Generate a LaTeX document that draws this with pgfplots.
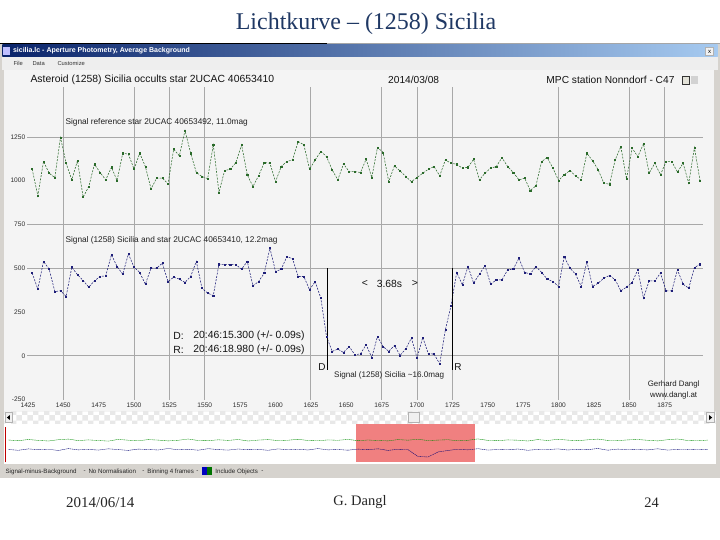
\documentclass[border=0pt]{standalone}
\usepackage{fontspec}
\setmainfont{Liberation Serif}
\newfontfamily\ui{Liberation Sans}
\usepackage{pgfplots}
\usepackage{pgfplotstable}
\pgfplotsset{compat=1.18}
\usetikzlibrary{patterns}

\definecolor{slidetitle}{HTML}{1F3864}
\definecolor{winframe}{HTML}{D6D3CE}
\definecolor{menubg}{HTML}{EEEEEE}
\definecolor{chartbg}{HTML}{F4F4F4}
\definecolor{tbleft}{HTML}{0A246A}
\definecolor{tbright}{HTML}{A6CAF0}
\definecolor{refgreen}{HTML}{2A6A2A}
\definecolor{astblue}{HTML}{1E1E78}
\definecolor{gridgray}{HTML}{A8A8A8}
\definecolor{salmonsel}{HTML}{F08080}

% binned light curve (4 frames per bin): reference star and (1258) Sicilia + target star
\pgfplotstableread{
f ref ast
1428 1066 472
1432 914 381
1436 1110 539
1440 1043 495
1444 1018 367
1448 1247 371
1452 1100 339
1456 1005 506
1460 1115 463
1464 906 430
1468 967 392
1472 1094 428
1476 1047 453
1480 1005 457
1484 1077 577
1488 1001 510
1492 1157 466
1496 1152 582
1500 1066 506
1504 1157 476
1508 1081 409
1512 954 501
1516 1015 501
1520 1015 529
1524 982 424
1528 1180 449
1532 1142 438
1536 1287 419
1540 1157 453
1544 1047 539
1548 1024 386
1552 1012 358
1556 1205 344
1560 933 523
1564 1058 522
1568 1066 522
1572 1104 520
1576 1205 495
1580 1034 539
1584 967 400
1588 1028 424
1592 1104 472
1596 1100 615
1600 995 481
1604 1081 495
1608 1110 567
1612 1119 554
1616 1224 453
1620 1205 453
1624 1066 377
1628 1119 424
1632 1167 329
1636 1138 110
1640 1062 25
1644 1005 38
1648 1096 19
1652 1052 53
1656 1052 6
1660 1047 11
1664 1123 63
1668 1018 -10
1672 1190 110
1676 1162 53
1680 995 25
1684 1085 59
1688 1056 2
1692 1024 40
1696 995 101
1700 1018 -13
1704 1043 105
1708 1066 11
1712 1081 10
1716 1028 -46
1720 1119 148
1724 1100 286
1728 1094 476
1732 1072 405
1736 1077 510
1740 1123 415
1744 1005 466
1748 1043 514
1752 1072 409
1756 1081 434
1760 1132 434
1764 1081 491
1768 1047 495
1772 1005 558
1776 1015 476
1780 944 468
1784 971 510
1788 1110 476
1792 1132 438
1796 1072 424
1800 1001 396
1804 1034 567
1808 1058 501
1812 1028 466
1816 1005 396
1820 1157 539
1824 1115 396
1828 1062 415
1832 986 444
1836 980 459
1840 1119 434
1844 1195 371
1848 1011 392
1852 1186 419
1856 1138 491
1860 1211 329
1864 1043 428
1868 1100 428
1872 1034 472
1876 1110 371
1880 1110 371
1884 1049 491
1888 1100 409
1892 986 386
1896 1190 504
1900 999 523
}\lc

% overview strip of the whole recording (screen units)
\pgfplotstableread{
x g b
0 22.5 13.0
10 21.8 12.2
20 23.0 13.6
30 22.1 12.8
40 21.5 13.3
50 22.8 12.0
60 23.4 13.9
70 21.9 12.6
80 22.6 13.1
90 22.0 12.4
100 21.4 13.7
110 23.1 12.9
120 22.3 12.1
130 21.7 13.4
140 22.9 13.0
150 22.4 12.5
160 21.6 14.0
170 22.2 12.7
180 23.5 13.2
190 22.0 12.3
200 21.8 13.8
210 22.7 12.9
220 22.1 12.4
230 23.0 13.5
240 21.5 12.8
250 22.4 13.1
260 22.9 12.2
270 21.9 13.6
280 22.3 12.7
290 23.2 13.3
300 22.0 12.5
310 21.7 13.9
320 22.6 12.6
330 22.2 13.0
340 23.1 12.3
350 21.8 13.4
360 22.5 12.8
370 22.0 13.7
380 21.6 12.1
390 22.9 13.2
400 22.3 12.9
410 23.3 6.0
420 21.9 5.5
430 22.4 10.5
440 22.8 12.0
450 21.7 13.3
460 22.2 12.6
470 23.6 13.8
480 22.1 12.4
490 21.8 13.0
500 22.6 12.7
510 22.3 13.5
520 21.5 12.2
530 22.9 13.1
540 22.0 12.9
550 23.2 13.6
560 22.4 12.5
570 21.8 13.2
580 22.7 12.8
590 23.4 14.0
600 22.1 12.3
610 21.9 13.4
620 22.6 12.7
630 23.0 13.0
640 22.2 12.6
650 21.6 13.7
660 22.8 12.4
670 23.5 13.1
680 22.0 12.9
690 21.7 13.3
700 22.4 12.8
}\ov

\newcommand\uisize[1]{\ui\fontsize{#1}{#1}\selectfont}

\begin{document}
\begin{tikzpicture}[x=1pt,y=1pt]
% slide
\fill[white] (0,0) rectangle (720,540);
\node[font=\fontsize{24}{28}\selectfont, text=slidetitle] at (366,516) {Lichtkurve -- (1258) Sicilia};
\node[font=\fontsize{15}{17}\selectfont, text=black!85] at (100,37) {2014/06/14};
\node[font=\fontsize{14.5}{17}\selectfont, text=black!85] at (360,37) {G. Dangl};
\node[font=\fontsize{14.5}{17}\selectfont, text=black!85] at (652,37) {24};

% application window
\fill[winframe] (0,61) rectangle (720,497);
\draw[black, line width=0.8pt] (0,497) -- (327,497);
\draw[gray!70, line width=0.8pt] (327,497) -- (720,497);
\shade[left color=tbleft, right color=tbright] (2,483) rectangle (718,495.5);
\fill[white!75!blue] (3,485) rectangle (10,493);
\node[anchor=west, font=\uisize{7}\bfseries, text=white, inner sep=0pt] at (12.5,489.2) {sicilia.lc - Aperture Photometry, Average Background};
\fill[gray!10] (706,484.5) rectangle (714,492.5);
\draw[gray!60, line width=0.4pt] (706,484.5) rectangle (714,492.5);
\node[font=\uisize{6}, inner sep=0pt] at (710,488.5) {x};
\fill[menubg] (2,470) rectangle (718,483);
\node[anchor=west, font=\uisize{5.8}, text=gray!40!black, inner sep=0pt] at (13,476.5) {File};
\node[anchor=west, font=\uisize{5.8}, text=gray!40!black, inner sep=0pt] at (32,476.5) {Data};
\node[anchor=west, font=\uisize{5.8}, text=gray!40!black, inner sep=0pt] at (57,476.5) {Customize};

% chart panel
\fill[chartbg] (4,128) rectangle (714,470);
\node[anchor=west, font=\uisize{10.4}, text=gray!15!black, inner sep=0pt] at (30,460) {Asteroid (1258) Sicilia occults star 2UCAC 40653410};
\node[anchor=west, font=\uisize{10.2}, text=gray!15!black, inner sep=0pt] at (388,460) {2014/03/08};
\node[anchor=east, font=\uisize{10.2}, text=gray!15!black, inner sep=0pt] at (675,460) {MPC station Nonndorf - C47};
\fill[yellow!15!gray!30] (683,456) rectangle (690,464);
\draw[gray!40!black, line width=0.4pt] (683,456) rectangle (690,464);
\fill[gray!35] (691,456) rectangle (698,464);

\begin{axis}[
  scale only axis, width=676pt, height=313pt,
  anchor=south west, at={(27pt,140pt)},
  xmin=1424.6, xmax=1901.8, ymin=-250, ymax=1536,
  axis line style={draw=none}, tick style={draw=none},
  xtick={1425,1450,...,1875}, ytick={-250,0,...,1250},
  /pgf/number format/assume math mode=true,
  /pgf/number format/1000 sep={},
  ticklabel style={font=\uisize{6.6}, text=gray!35!black},
  xticklabel style={inner sep=1pt, yshift=-2pt},
  yticklabel style={inner sep=1pt, xshift=-1pt},
  extra x ticks={1450,1500,1525,1550,1625,1675,1700,1725,1800,1850,1875},
  extra x tick labels={}, extra x tick style={grid=major},
  extra y ticks={0,500,750,1250},
  extra y tick labels={}, extra y tick style={grid=major},
  major grid style={gridgray, line width=0.9pt},
  clip=false,
]
\addplot[refgreen, line width=0.55pt, dash pattern=on 2pt off 1.3pt,
  mark=square*, mark size=0.55pt, mark options={solid}] table[x=f, y=ref] {\lc};
\addplot[astblue, line width=0.55pt, dash pattern=on 2pt off 1.3pt,
  mark=square*, mark size=0.55pt, mark options={solid}] table[x=f, y=ast] {\lc};
% disappearance and reappearance
\draw[black, line width=0.9pt] (axis cs:1636.4,500) -- (axis cs:1636.4,-80);
\draw[black, line width=0.9pt] (axis cs:1725.2,500) -- (axis cs:1725.2,-80);
\end{axis}

\node[anchor=west, font=\uisize{8.3}, text=gray!25!black, inner sep=0pt] at (65,417) {Signal reference star 2UCAC 40653492, 11.0mag};
\node[anchor=west, font=\uisize{8.3}, text=gray!25!black, inner sep=0pt] at (65,299) {Signal (1258) Sicilia and star 2UCAC 40653410, 12.2mag};
\node[anchor=west, font=\uisize{10.4}, text=gray!15!black, inner sep=0pt] at (173,204) {D:};
\node[anchor=west, font=\uisize{10.4}, text=gray!15!black, inner sep=0pt] at (193,204) {20:46:15.300 (+/- 0.09s)};
\node[anchor=west, font=\uisize{10.4}, text=gray!15!black, inner sep=0pt] at (173,190) {R:};
\node[anchor=west, font=\uisize{10.4}, text=gray!15!black, inner sep=0pt] at (193,190) {20:46:18.980 (+/- 0.09s)};
\node[font=\uisize{10.4}, text=gray!15!black, inner sep=0pt] at (365,256) {<};
\node[font=\uisize{10.4}, text=gray!15!black, inner sep=0pt] at (389.5,256) {3.68s};
\node[font=\uisize{10.4}, text=gray!15!black, inner sep=0pt] at (415,256) {>};
\node[font=\uisize{10}, text=gray!15!black, inner sep=0pt] at (322,173) {D};
\node[font=\uisize{10}, text=gray!15!black, inner sep=0pt] at (458,173) {R};
\node[anchor=west, font=\uisize{8.1}, text=gray!25!black, inner sep=0pt] at (334,164.5) {Signal (1258) Sicilia \textasciitilde 16.0mag};
\node[font=\uisize{7.9}, text=gray!25!black, inner sep=0pt] at (674,155) {Gerhard Dangl};
\node[font=\uisize{7.9}, text=gray!25!black, inner sep=0pt] at (674,144) {www.dangl.at};

% scroll bar
\fill[white] (4,116) rectangle (716,128);
\fill[pattern=checkerboard, pattern color=gray!18] (4,116) rectangle (716,128);
\fill[gray!12] (4.5,117) rectangle (12,127); \draw[gray!60, line width=0.4pt] (4.5,117) rectangle (12,127);
\fill[black] (6.5,122) -- (9.5,124.5) -- (9.5,119.5) -- cycle;
\fill[gray!12] (408,117) rectangle (419,127); \draw[gray!60, line width=0.4pt] (408,117) rectangle (419,127);
\fill[gray!12] (707,117) rectangle (715,127); \draw[gray!60, line width=0.4pt] (707,117) rectangle (715,127);
\fill[black] (712.5,122) -- (709.5,124.5) -- (709.5,119.5) -- cycle;

% overview strip
\fill[white] (4,75) rectangle (716,115.5);
\fill[salmonsel] (356,77) rectangle (475,115.5);
\draw[red!75!black, line width=1pt] (5.5,77) -- (5.5,113);
\begin{axis}[
  scale only axis, width=706pt, height=38pt,
  anchor=south west, at={(8pt,77pt)},
  xmin=0, xmax=706, ymin=0, ymax=38,
  hide axis, clip=false,
]
\addplot[green!55!black, line width=0.35pt, dash pattern=on 1.5pt off 0.5pt] table[x=x, y=g] {\ov};
\addplot[blue!45!black, line width=0.35pt, dash pattern=on 1.5pt off 0.5pt] table[x=x, y=b] {\ov};
\end{axis}

% status bar
\node[anchor=west, font=\uisize{6.2}, text=black!85, inner sep=0pt] at (5,68) {Signal-minus-Background};
\node[anchor=west, font=\uisize{6.2}, text=black!85, inner sep=0pt] at (83,68) {-};
\node[anchor=west, font=\uisize{6.2}, text=black!85, inner sep=0pt] at (88,68) {No Normalisation};
\node[anchor=west, font=\uisize{6.2}, text=black!85, inner sep=0pt] at (142,68) {-};
\node[anchor=west, font=\uisize{6.2}, text=black!85, inner sep=0pt] at (147,68) {Binning 4 frames};
\node[anchor=west, font=\uisize{6.2}, text=black!85, inner sep=0pt] at (196,68) {-};
\fill[blue!75!black] (202,64) rectangle (207,72);
\fill[green!45!black] (207,64) rectangle (212,72);
\node[anchor=west, font=\uisize{6.2}, text=black!85, inner sep=0pt] at (215,68) {Include Objects};
\node[anchor=west, font=\uisize{6.2}, text=black!85, inner sep=0pt] at (261,68) {-};
\end{tikzpicture}
\end{document}
